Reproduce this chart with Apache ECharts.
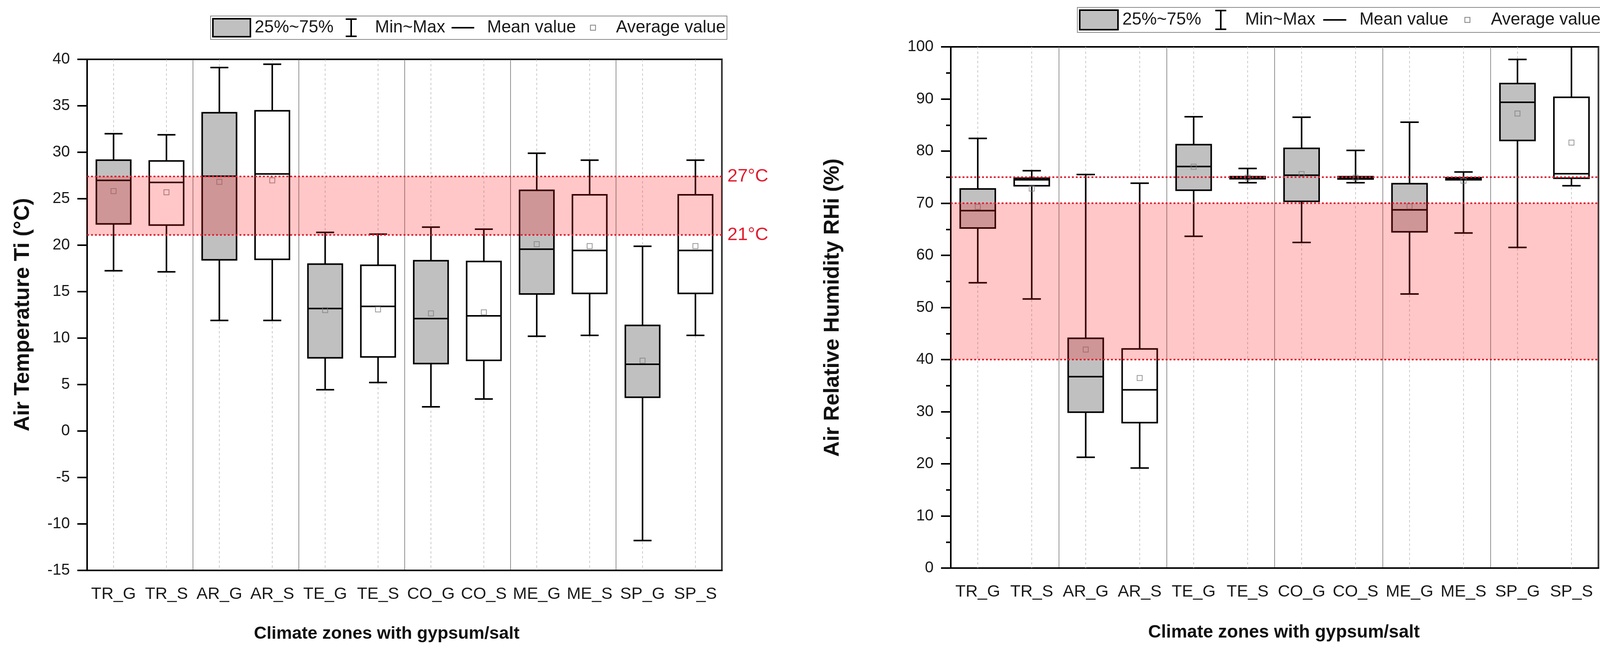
<!DOCTYPE html>
<html><head><meta charset="utf-8">
<script src="https://cdn.jsdelivr.net/npm/echarts@6/dist/echarts.min.js"></script>
<style>html,body{margin:0;padding:0;background:#fff}#c{width:4318px;height:1670px}</style>
</head><body><div id="c"></div>
<script>
// ---------- data ----------
const categories = ['TR_G','TR_S','AR_G','AR_S','TE_G','TE_S','CO_G','CO_S','ME_G','ME_S','SP_G','SP_S'];

// Air temperature Ti (°C)
const tMin    = [17.25, 17.13, 11.9, 11.9, 4.44, 5.22, 2.61, 3.45, 10.2, 10.29, -11.79, 10.29];
const tQ1     = [22.29, 22.16, 18.42, 18.48, 7.88, 7.97, 7.26, 7.6, 14.75, 14.81, 3.63, 14.81];
const tMedian = [26.98, 26.75, 27.43, 27.67, 13.18, 13.41, 12.1, 12.39, 19.57, 19.43, 7.19, 19.43];
const tQ3     = [29.15, 29.07, 34.25, 34.46, 17.96, 17.84, 18.33, 18.25, 25.9, 25.42, 11.37, 25.42];
const tMax    = [32.0, 31.88, 39.12, 39.47, 21.38, 21.19, 21.94, 21.72, 29.89, 29.15, 19.88, 29.15];
const tAvg    = [25.82, 25.69, 26.82, 26.98, 13.01, 13.09, 12.66, 12.77, 20.11, 19.91, 7.57, 19.91];
const tBand   = [21.1, 27.4];
const tLimits = [27.4, 21.1];
const tLimitLabels = ['27°C', '21°C'];
const tTicks = { min: -15, max: 40, interval: 5 };

// Air relative humidity RHi (%)
const hMin    = [54.73, 51.62, 21.26, 19.19, 63.66, 73.93, 62.47, 73.93, 52.58, 64.28, 61.51, 73.36];
const hQ1     = [65.24, 73.36, 29.9, 27.91, 72.5, 74.7, 70.35, 74.65, 64.52, 74.5, 82.05, 74.79];
const hMedian = [68.58, 74.5, 36.72, 34.19, 77.04, 74.9, 75.37, 74.9, 68.73, 74.7, 89.36, 75.65];
const hQ3     = [72.74, 74.79, 44.08, 42.04, 81.24, 75.1, 80.52, 75.1, 73.74, 74.9, 92.95, 90.32];
const hMax    = [82.44, 76.23, 75.51, 73.84, 86.59, 76.66, 86.5, 80.14, 85.54, 75.99, 97.58, 100];
const hAvg    = [69.3, 72.8, 41.93, 36.47, 77.0, 74.9, 75.6, 74.9, 69.4, 74.3, 87.21, 81.63];
const hBand   = [40, 70];
const hLimits = [75, 70, 40];
const hLimitLabels = ['crit. 75%', '70%', '40%'];
const hTicks = { min: 0, max: 100, interval: 10 };

const legendLabels = ['25%~75%', 'Min~Max', 'Mean value', 'Average value'];
const yTitles = ['Air Temperature Ti (°C)', 'Air Relative Humidity RHi (%)'];
const xTitle = 'Climate zones with gypsum/salt';

// ---------- rendering ----------
const FONT = '"Liberation Sans", Arial, Helvetica, sans-serif';
const RED = '#e11d2f';
const chart = echarts.init(document.getElementById('c'), null, { renderer: 'canvas', width: 4318, height: 1670 });

function boxRender(params, api) {
  const idx = api.value(0);
  const cs = params.coordSys;
  const w = api.size([1, 0])[0];
  const bw = w * 0.65, cw = w * 0.34;
  const pMin = api.coord([idx, api.value(1)]);
  const pQ1 = api.coord([idx, api.value(2)]);
  const pMd = api.coord([idx, api.value(3)]);
  const pQ3 = api.coord([idx, api.value(4)]);
  const pMax = api.coord([idx, api.value(5)]);
  const x = pMin[0];
  const fill = idx % 2 === 0 ? '#c0c0c0' : '#ffffff';
  const K = { stroke: '#000', lineWidth: 4 };
  return { type: 'group', children: [
    { type: 'line', silent: true, shape: { x1: x, y1: cs.y, x2: x, y2: cs.y + cs.height }, style: { stroke: '#b8b8b8', lineWidth: 1.5, lineDash: [6, 6] } },
    { type: 'line', shape: { x1: x, y1: pMax[1], x2: x, y2: pQ3[1] }, style: K },
    { type: 'line', shape: { x1: x, y1: pQ1[1], x2: x, y2: pMin[1] }, style: K },
    { type: 'line', shape: { x1: x - cw / 2, y1: pMax[1], x2: x + cw / 2, y2: pMax[1] }, style: K },
    { type: 'line', shape: { x1: x - cw / 2, y1: pMin[1], x2: x + cw / 2, y2: pMin[1] }, style: K },
    { type: 'rect', shape: { x: x - bw / 2, y: pQ3[1], width: bw, height: pQ1[1] - pQ3[1] }, style: { fill: fill, stroke: '#000', lineWidth: 4 } },
    { type: 'line', shape: { x1: x - bw / 2, y1: pMd[1], x2: x + bw / 2, y2: pMd[1] }, style: K }
  ] };
}

function bandRender(params, api) {
  const cs = params.coordSys;
  const yLo = api.coord([0, api.value(1)])[1];
  const yHi = api.coord([0, api.value(2)])[1];
  return { type: 'rect', silent: true, shape: { x: cs.x, y: yHi, width: cs.width, height: yLo - yHi }, style: { fill: 'rgba(255,0,0,0.22)' } };
}

function limitRender(labels) {
  return function (params, api) {
    const cs = params.coordSys;
    const y = api.coord([0, api.value(1)])[1];
    return { type: 'group', children: [
      { type: 'line', shape: { x1: cs.x, y1: y, x2: cs.x + cs.width, y2: y }, style: { stroke: RED, lineWidth: 4, lineDash: [5, 5] } },
      { type: 'text', x: cs.x + cs.width + 14, y: y, style: { text: labels[params.dataIndex], fill: RED, fontSize: 47, fontFamily: FONT, align: 'left', verticalAlign: 'middle' } }
    ] };
  };
}

function xAxisCfg(gi) {
  return {
    type: 'category', gridIndex: gi, data: categories, boundaryGap: true,
    axisLine: { onZero: false, lineStyle: { color: '#000', width: 4 } },
    axisTick: { alignWithLabel: true, interval: 0, length: 22, lineStyle: { color: '#000', width: 4 } },
    axisLabel: { interval: 0, fontSize: 43, fontFamily: FONT, color: '#1a1a1a', margin: 40 },
    splitLine: { show: true, interval: function (i) { return i % 2 === 0; }, lineStyle: { color: '#6e6e6e', width: 1.5 } }
  };
}
function yAxisCfg(gi, t, minor) {
  return {
    type: 'value', gridIndex: gi, min: t.min, max: t.max, interval: t.interval,
    axisLine: { show: true, lineStyle: { color: '#000', width: 4 } },
    axisTick: { show: true, length: 25, lineStyle: { color: '#000', width: 4 } },
    minorTick: { show: minor, splitNumber: 2, length: 12, lineStyle: { color: '#000', width: 4 } },
    axisLabel: { fontSize: 40, fontFamily: FONT, color: '#1a1a1a', margin: 44 },
    splitLine: { show: false }
  };
}

function seriesFor(gi, mn, q1, md, q3, mx, avg, band, limits, labels) {
  return [
    { type: 'custom', name: legendLabels[0], xAxisIndex: gi, yAxisIndex: gi, z: 2,
      renderItem: boxRender, encode: { x: 0, y: [1, 2, 3, 4, 5] },
      data: categories.map((c, i) => [i, mn[i], q1[i], md[i], q3[i], mx[i]]) },
    { type: 'scatter', name: legendLabels[3], xAxisIndex: gi, yAxisIndex: gi, z: 3,
      symbol: 'rect', symbolSize: 13,
      itemStyle: { color: 'rgba(0,0,0,0)', borderColor: '#808080', borderWidth: 2 },
      data: categories.map((c, i) => [i, avg[i]]) },
    { type: 'custom', xAxisIndex: gi, yAxisIndex: gi, z: 5, silent: true,
      renderItem: bandRender, encode: { x: 0, y: [1, 2] }, data: [[0, band[0], band[1]]] },
    { type: 'custom', xAxisIndex: gi, yAxisIndex: gi, z: 6, silent: true,
      renderItem: limitRender(labels), encode: { x: 0, y: 1 }, data: limits.map((v) => [0, v]) }
  ];
}

function legendGraphic(x0, y0, w, h, s) {
  const cy = y0 + h / 2;
  const T = (x, text) => ({ type: 'text', x: x, y: cy, style: { text: text, fontSize: 44, fontFamily: FONT, fill: '#1a1a1a', align: 'left', verticalAlign: 'middle' } });
  const ix = x0 + 360 * s;
  return [
    { type: 'rect', shape: { x: x0, y: y0, width: w, height: h }, style: { fill: '#fff', stroke: '#8a8a8a', lineWidth: 2 } },
    { type: 'rect', shape: { x: x0 + 6 * s, y: y0 + 7, width: 96 * s, height: h - 14 }, style: { fill: '#c0c0c0', stroke: '#000', lineWidth: 4 } },
    T(x0 + 113 * s, legendLabels[0]),
    { type: 'line', shape: { x1: ix, y1: y0 + 8, x2: ix, y2: y0 + h - 8 }, style: { stroke: '#000', lineWidth: 4 } },
    { type: 'line', shape: { x1: ix - 14, y1: y0 + 8, x2: ix + 14, y2: y0 + 8 }, style: { stroke: '#000', lineWidth: 4 } },
    { type: 'line', shape: { x1: ix - 14, y1: y0 + h - 8, x2: ix + 14, y2: y0 + h - 8 }, style: { stroke: '#000', lineWidth: 4 } },
    T(x0 + 421 * s, legendLabels[1]),
    { type: 'line', shape: { x1: x0 + 617 * s, y1: cy, x2: x0 + 675 * s, y2: cy }, style: { stroke: '#000', lineWidth: 4 } },
    T(x0 + 708 * s, legendLabels[2]),
    { type: 'rect', shape: { x: x0 + 979 * s - 6.5, y: cy - 6.5, width: 13, height: 13 }, style: { fill: 'none', stroke: '#808080', lineWidth: 2 } },
    T(x0 + 1038 * s, legendLabels[3])
  ];
}

function titleGraphic(text, x, y, size, rot) {
  return { type: 'text', x: x, y: y, rotation: rot, style: { text: text, fontSize: size, fontWeight: 'bold', fontFamily: FONT, fill: '#111', align: 'center', verticalAlign: 'middle' } };
}

const option = {
  animation: false,
  backgroundColor: '#ffffff',
  grid: [
    { left: 223, top: 152, width: 1625, height: 1309, show: true, borderColor: '#000', borderWidth: 4, backgroundColor: 'transparent' },
    { left: 2434, top: 120, width: 1658, height: 1335, show: true, borderColor: '#000', borderWidth: 4, backgroundColor: 'transparent' }
  ],
  xAxis: [xAxisCfg(0), xAxisCfg(1)],
  yAxis: [yAxisCfg(0, tTicks, false), yAxisCfg(1, hTicks, true)],
  series: [].concat(
    seriesFor(0, tMin, tQ1, tMedian, tQ3, tMax, tAvg, tBand, tLimits, tLimitLabels),
    seriesFor(1, hMin, hQ1, hMedian, hQ3, hMax, hAvg, hBand, hLimits, hLimitLabels)
  ),
  graphic: [].concat(
    legendGraphic(539, 41, 1322, 60, 1),
    legendGraphic(2758, 19, 1350, 64, 1.02),
    [
      titleGraphic(yTitles[0], 59, 806, 55, Math.PI / 2),
      titleGraphic(yTitles[1], 2132, 788, 55, Math.PI / 2),
      titleGraphic(xTitle, 990, 1624, 45, 0),
      titleGraphic(xTitle, 3287, 1620, 46, 0)
    ]
  )
};
chart.setOption(option);
</script>
</body></html>
